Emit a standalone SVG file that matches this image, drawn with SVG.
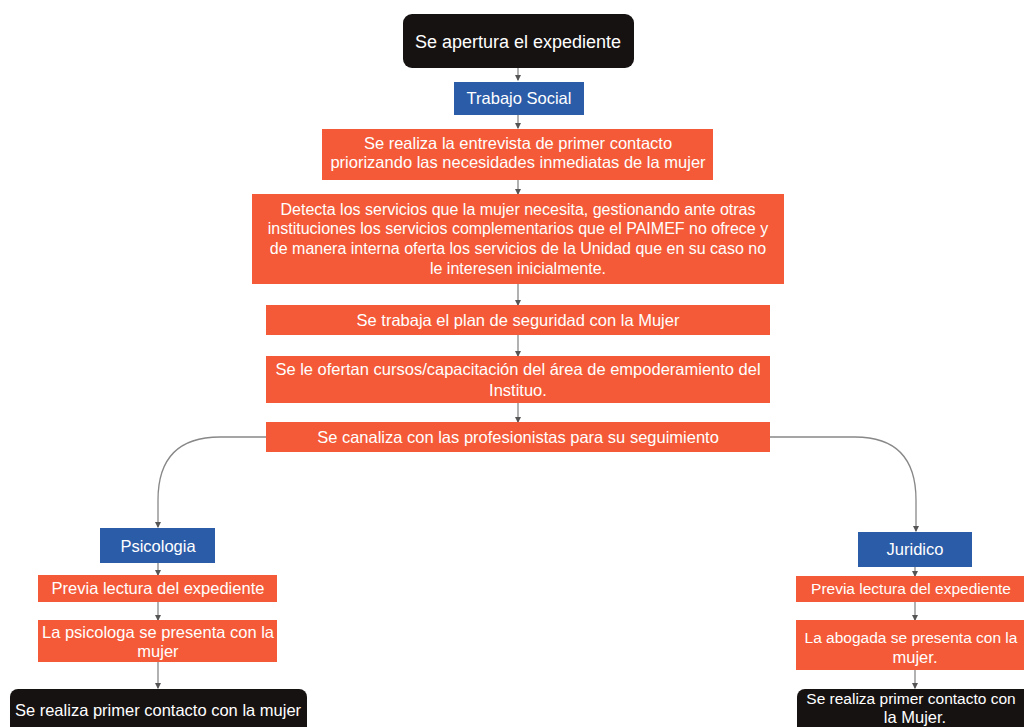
<svg xmlns="http://www.w3.org/2000/svg" width="1024" height="727" viewBox="0 0 1024 727">
<defs>
<style>
.o{fill:#f45a37}
.b{fill:#2b5ca8}
.k{fill:#161212}
text{font-family:"Liberation Sans",Arial,sans-serif;fill:#fff;text-anchor:middle;font-size:16.5px}
.big{font-size:18px}
.m{font-size:16px}
.s{font-size:15.5px}
.c{fill:none;stroke:#888;stroke-width:1.3}
</style>
<marker id="a" viewBox="0 0 6 6" refX="5" refY="3" markerWidth="5" markerHeight="5" orient="auto"><path d="M0,0L6,3L0,6z" fill="#555"/></marker>
</defs>
<rect width="1024" height="727" fill="#fff"/>
<g id="connectors">
<path class="c" d="M518,68V80" marker-end="url(#a)"/>
<path class="c" d="M518,115V128" marker-end="url(#a)"/>
<path class="c" d="M518,180V194" marker-end="url(#a)"/>
<path class="c" d="M518,284V305" marker-end="url(#a)"/>
<path class="c" d="M518,335V356" marker-end="url(#a)"/>
<path class="c" d="M518,403V422" marker-end="url(#a)"/>
<path class="c" d="M266,437H220Q158,437 158,500V527" marker-end="url(#a)"/>
<path class="c" d="M770,437H855Q916,437 916,500V531" marker-end="url(#a)"/>
<path class="c" d="M158,563V575" marker-end="url(#a)"/>
<path class="c" d="M158,602V620" marker-end="url(#a)"/>
<path class="c" d="M158,662V688" marker-end="url(#a)"/>
<path class="c" d="M915,567V576" marker-end="url(#a)"/>
<path class="c" d="M915,602V620" marker-end="url(#a)"/>
<path class="c" d="M915,670V688" marker-end="url(#a)"/>
</g>
<g id="n1"><rect class="k" x="403" y="14" width="231" height="54" rx="9"/><text class="big" x="518" y="48">Se apertura el expediente</text></g>
<g id="n2"><rect class="b" x="454" y="82" width="130" height="33"/><text x="519" y="104">Trabajo Social</text></g>
<g id="n3"><rect class="o" x="322" y="129" width="391" height="51"/><text x="518" y="149">Se realiza la entrevista de primer contacto</text><text x="518" y="168">priorizando las necesidades inmediatas de la mujer</text></g>
<g id="n4"><rect class="o" x="252" y="194" width="532" height="90"/><text class="m" x="518" y="215">Detecta los servicios que la mujer necesita, gestionando ante otras</text><text class="m" x="518" y="234">instituciones los servicios complementarios que el PAIMEF no ofrece y</text><text class="m" x="518" y="254">de manera interna oferta los servicios de la Unidad que en su caso no</text><text class="m" x="518" y="274">le interesen inicialmente.</text></g>
<g id="n5"><rect class="o" x="266" y="305" width="504" height="30"/><text x="518" y="326">Se trabaja el plan de seguridad con la Mujer</text></g>
<g id="n6"><rect class="o" x="266" y="356" width="504" height="47"/><text x="518" y="375">Se le ofertan cursos/capacitación del área de empoderamiento del</text><text x="518" y="396">Instituo.</text></g>
<g id="n7"><rect class="o" x="266" y="422" width="504" height="30"/><text x="518" y="443">Se canaliza con las profesionistas para su seguimiento</text></g>
<g id="p1"><rect class="b" x="100" y="528" width="115" height="35"/><text x="158" y="552">Psicologia</text></g>
<g id="p2"><rect class="o" x="38" y="575" width="239" height="27"/><text x="158" y="594">Previa lectura del expediente</text></g>
<g id="p3"><rect class="o" x="38" y="620" width="239" height="42"/><text x="158" y="638">La psicologa se presenta con la</text><text x="158" y="657">mujer</text></g>
<g id="p4"><rect class="k" x="10" y="689" width="297" height="50" rx="8"/><text x="158" y="716">Se realiza primer contacto con la mujer</text></g>
<g id="j1"><rect class="b" x="858" y="532" width="114" height="35"/><text x="915" y="555">Juridico</text></g>
<g id="j2"><rect class="o" x="796" y="576" width="240" height="26"/><text class="s" x="911" y="594">Previa lectura del expediente</text></g>
<g id="j3"><rect class="o" x="796" y="620" width="240" height="50"/><text class="s" x="911" y="643">La abogada se presenta con la</text><text x="915" y="663">mujer.</text></g>
<g id="j4"><rect class="k" x="797" y="689" width="240" height="50" rx="8"/><text class="s" x="911" y="704">Se realiza primer contacto con</text><text x="915" y="723">la Mujer.</text></g>
</svg>
